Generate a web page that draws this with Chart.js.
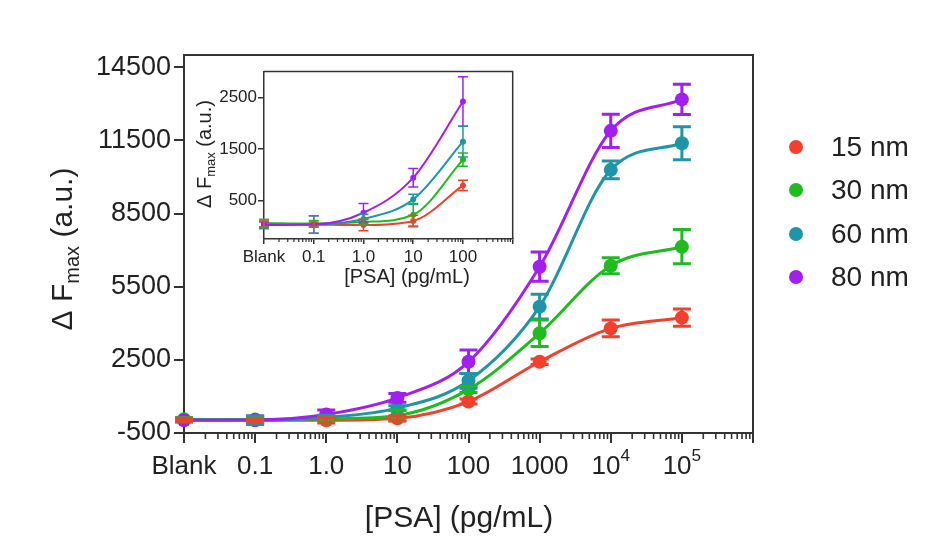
<!DOCTYPE html>
<html>
<head>
<meta charset="utf-8">
<script src="https://cdn.jsdelivr.net/npm/chart.js@4.4.0/dist/chart.umd.min.js"></script>
<style>
  body { margin: 0; background: #fff; }
  #wrap { position: relative; width: 938px; height: 556px; overflow: hidden; }
  #main { position: absolute; left: 0; top: 0; }
  #inset { position: absolute; left: 180px; top: 60px; }
  #legend { position: absolute; left: 789px; top: 125px; font: 28px "Liberation Sans", Arial, sans-serif; color: #222; }
  .item { display: flex; align-items: center; height: 43.5px; }
  .dot { width: 14px; height: 14px; border-radius: 50%; margin-right: 28px; }
</style>
</head>
<body>
<div id="wrap">
  <canvas id="main" width="938" height="556"></canvas>
  <canvas id="inset" width="345" height="230"></canvas>
  <div id="legend"></div>
</div>
<script>
// x positions are decades: Blank, 0.1 ... 10^5 pg/mL
const xLabels = ['Blank', '0.1', '1.0', '10', '100', '1000', '10^4', '10^5'];
const insetLabels = ['Blank', '0.1', '1.0', '10', '100'];
const minorFactors = [2, 3, 4, 5, 6, 7, 8, 9];

const yTicksMain = [-500, 2500, 5500, 8500, 11500, 14500];
const yTicksInset = [500, 1500, 2500];

const seriesNames = ['15 nm', '30 nm', '60 nm', '80 nm'];
const seriesColors = ['#f2402c', '#20bb20', '#1f95a8', '#a21ff0'];

// ΔFmax (a.u.)
const nm15 = [40, 30, 20, 100, 790, 2420, 3790, 4230];
const nm30 = [60, 50, 80, 220, 1290, 3590, 6360, 7140];
const nm60 = [40, 30, 140, 520, 1640, 4680, 10290, 11380];
const nm80 = [20, 30, 260, 940, 2420, 6320, 11890, 13180];

// error bars (±)
const err15 = [60, 50, 110, 110, 100, 110, 340, 350];
const err30 = [70, 60, 60, 220, 130, 540, 330, 700];
const err60 = [90, 170, 90, 100, 300, 510, 360, 680];
const err80 = [60, 170, 180, 180, 480, 600, 680, 620];

const allSeries = [nm15, nm30, nm60, nm80];
const allErrors = [err15, err30, err60, err80];

const FONT = '"Liberation Sans", Arial, sans-serif';
Chart.defaults.font.family = FONT;
Chart.defaults.color = '#222';

// legend
const legendEl = document.getElementById('legend');
seriesNames.forEach((name, i) => {
  legendEl.innerHTML += `<div class="item"><span class="dot" style="background:${seriesColors[i]}"></span>${name}</div>`;
});

function drawParts(ctx, parts, x, y, rot) {
  ctx.save();
  ctx.translate(x, y);
  ctx.rotate(rot || 0);
  let total = 0;
  parts.forEach(p => { ctx.font = `${p.s}px ${FONT}`; p.w = ctx.measureText(p.t).width; total += p.w; });
  let cx = -total / 2;
  parts.forEach(p => {
    ctx.font = `${p.s}px ${FONT}`;
    ctx.fillText(p.t, cx, p.dy || 0);
    cx += p.w;
  });
  ctx.restore();
}

// error bars, minor log ticks, box frame, tick labels with powers and rich-text titles
const extras = {
  id: 'extras',
  afterDatasetsDraw(chart, args, opts) {
    const ctx = chart.ctx, xs = chart.scales.x, ys = chart.scales.y;
    chart.data.datasets.forEach((ds, di) => {
      const errs = opts.errors[di];
      ctx.save();
      ctx.strokeStyle = ds.borderColor;
      ctx.lineWidth = opts.barWidth;
      ds.data.forEach((p, i) => {
        const x = xs.getPixelForValue(p.x);
        const y1 = ys.getPixelForValue(p.y + errs[i]);
        const y2 = ys.getPixelForValue(p.y - errs[i]);
        ctx.beginPath();
        ctx.moveTo(x, y1); ctx.lineTo(x, y2);
        ctx.moveTo(x - opts.cap, y1); ctx.lineTo(x + opts.cap, y1);
        ctx.moveTo(x - opts.cap, y2); ctx.lineTo(x + opts.cap, y2);
        ctx.stroke();
      });
      ctx.restore();
    });
  },
  afterDraw(chart, args, opts) {
    const ctx = chart.ctx, xs = chart.scales.x, a = chart.chartArea;
    ctx.save();
    ctx.strokeStyle = '#333';
    ctx.lineWidth = opts.frameWidth;
    ctx.beginPath();
    ctx.moveTo(a.left, a.top); ctx.lineTo(a.right, a.top); ctx.lineTo(a.right, a.bottom);
    ctx.stroke();
    ctx.lineWidth = opts.minorWidth;
    ctx.beginPath();
    for (let i = xs.min; i < xs.max; i++) {
      minorFactors.forEach(f => {
        const x = xs.getPixelForValue(i + Math.log10(f));
        ctx.moveTo(x, a.bottom);
        ctx.lineTo(x, a.bottom + opts.minorLen);
      });
    }
    ctx.stroke();
    ctx.fillStyle = '#222';
    ctx.textBaseline = 'middle';
    ctx.textAlign = 'left';
    if (opts.xLabels) {
      opts.xLabels.forEach((lab, i) => {
        const [base, pow] = lab.split('^');
        const parts = [{ t: base, s: opts.labelSize }];
        if (pow) parts.push({ t: pow, s: opts.labelSize * 0.66, dy: -opts.labelSize * 0.42 });
        drawParts(ctx, parts, xs.getPixelForValue(i), opts.labelY);
      });
    }
    opts.titles.forEach(t => drawParts(ctx, t.parts, t.x, t.y, t.rot));
    ctx.restore();
  }
};

function makeDatasets(n, radius, width) {
  return allSeries.map((vals, i) => ({
    label: seriesNames[i],
    data: vals.slice(0, n).map((v, j) => ({ x: j, y: v })),
    borderColor: seriesColors[i],
    backgroundColor: seriesColors[i],
    borderWidth: width,
    pointRadius: radius,
    pointBorderWidth: 0,
    cubicInterpolationMode: 'monotone',
    clip: false
  })).reverse();
}

// main chart
new Chart(document.getElementById('main'), {
  type: 'line',
  data: { datasets: makeDatasets(xLabels.length, 7, 3) },
  options: {
    responsive: false,
    animation: false,
    layout: { padding: { left: 0, top: 55, right: 185, bottom: 0 } },
    scales: {
      x: {
        type: 'linear', min: 0, max: xLabels.length,
        afterBuildTicks: s => { s.ticks = [...xLabels, ''].map((_, i) => ({ value: i })); },
        afterFit: s => { s.height = 123; },
        ticks: { display: false },
        grid: { drawOnChartArea: false, color: '#333', lineWidth: 2, tickLength: 10 },
        border: { color: '#333', width: 2 }
      },
      y: {
        min: -500, max: 15000,
        afterBuildTicks: s => { s.ticks = yTicksMain.map(v => ({ value: v })); },
        afterFit: s => { s.width = 184; },
        ticks: { callback: v => String(v), font: { size: 27 }, padding: 3 },
        grid: { drawOnChartArea: false, color: '#333', lineWidth: 2, tickLength: 10 },
        border: { color: '#333', width: 2 }
      }
    },
    plugins: {
      legend: { display: false },
      tooltip: { enabled: false },
      extras: {
        errors: allErrors.slice().reverse(), cap: 9, barWidth: 3,
        frameWidth: 2, minorWidth: 1.6, minorLen: 6,
        xLabels: xLabels, labelSize: 26, labelY: 467,
        titles: [
          { x: 459, y: 519, parts: [{ t: '[PSA] (pg/mL)', s: 30 }] },
          { x: 64, y: 249, rot: -Math.PI / 2, parts: [{ t: '\u0394 F', s: 30 }, { t: 'max', s: 20, dy: 9 }, { t: ' (a.u.)', s: 30 }] }
        ]
      }
    }
  },
  plugins: [extras]
});

// inset: low-concentration zoom
new Chart(document.getElementById('inset'), {
  type: 'line',
  data: { datasets: makeDatasets(insetLabels.length, 3, 2) },
  options: {
    responsive: false,
    animation: false,
    layout: { padding: { left: 0, top: 11.6, right: 12.3, bottom: 0 } },
    scales: {
      x: {
        type: 'linear', min: 0, max: insetLabels.length,
        afterBuildTicks: s => { s.ticks = [...insetLabels, ''].map((_, i) => ({ value: i })); },
        afterFit: s => { s.height = 51; },
        ticks: { callback: v => insetLabels[v] ?? '', font: { size: 17 }, padding: 3, maxRotation: 0, autoSkip: false },
        grid: { drawOnChartArea: false, color: '#333', lineWidth: 1.5, tickLength: 5 },
        border: { color: '#333', width: 1.5 }
      },
      y: {
        min: -250, max: 3000,
        afterBuildTicks: s => { s.ticks = yTicksInset.map(v => ({ value: v })); },
        afterFit: s => { s.width = 84; },
        ticks: { callback: v => String(v), font: { size: 17 }, padding: 1 },
        grid: { drawOnChartArea: false, color: '#333', lineWidth: 1.5, tickLength: 6 },
        border: { color: '#333', width: 1.5 }
      }
    },
    plugins: {
      legend: { display: false },
      tooltip: { enabled: false },
      extras: {
        errors: allErrors.slice().reverse(), cap: 5, barWidth: 1.5,
        frameWidth: 1.5, minorWidth: 1.2, minorLen: 3,
        titles: [
          { x: 227, y: 217, parts: [{ t: '[PSA] (pg/mL)', s: 20 }] },
          { x: 25, y: 94, rot: -Math.PI / 2, parts: [{ t: '\u0394 F', s: 20 }, { t: 'max', s: 13, dy: 6 }, { t: ' (a.u.)', s: 20 }] }
        ]
      }
    }
  },
  plugins: [extras]
});
</script>
</body>
</html>
